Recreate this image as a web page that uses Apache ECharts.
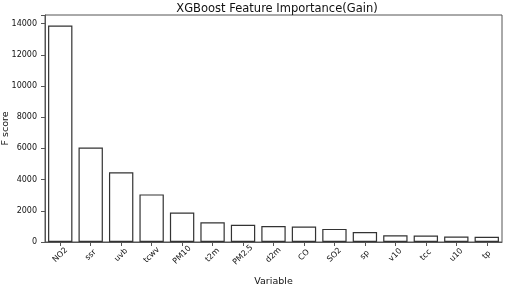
<!DOCTYPE html>
<html><head><meta charset="utf-8">
<script src="https://cdn.jsdelivr.net/npm/echarts@6/dist/echarts.min.js"></script>
<style>html,body{margin:0;padding:0;background:#fff}#c{width:505px;height:284px}</style>
</head><body><div id="c"></div>
<script>
const categories = ['NO2','ssr','uvb','tcwv','PM10','t2m','PM2.5','d2m','CO','SO2','sp','v10','tcc','u10','tp'];
const fscore = [13880, 6060, 4470, 3050, 1890, 1270, 1100, 1030, 990, 840, 645, 430, 410, 345, 340];
const yTicks = [0, 2000, 4000, 6000, 8000, 10000, 12000, 14000];

const font = 'DejaVu Sans';
const chart = echarts.init(document.getElementById('c'), null, {renderer: 'canvas'});
chart.setOption({
  animation: false,
  backgroundColor: '#fff',
  title: {
    text: 'XGBoost Feature Importance(Gain)',
    left: 272, top: -2, textAlign: 'center',
    textStyle: {fontFamily: font, fontSize: 11.5, fontWeight: 'normal', color: '#111'}
  },
  grid: {left: 45, right: 3, top: 15, bottom: 42, containLabel: false, outerBoundsMode: 'none',
    show: true, borderColor: '#555', borderWidth: 1, backgroundColor: 'transparent'},
  xAxis: {
    type: 'category', data: categories, boundaryGap: true,
    name: 'Variable', nameLocation: 'middle', nameGap: 35, nameMoveOverlap: false,
    nameTextStyle: {fontFamily: font, fontSize: 9.5, color: '#111'},
    axisLine: {show: true, lineStyle: {color: '#555', width: 1}},
    axisTick: {show: true, alignWithLabel: true, length: 4, lineStyle: {color: '#555'}},
    axisLabel: {rotate: 45, align: 'center', verticalAlign: 'middle', margin: 13, fontFamily: font, fontSize: 8, color: '#111'}
  },
  yAxis: {
    type: 'value', min: 0, max: 14550, interval: 2000,
    name: 'F score', nameLocation: 'middle', nameGap: 34, nameMoveOverlap: false,
    nameTextStyle: {fontFamily: font, fontSize: 9.5, color: '#111'},
    axisLine: {show: true, lineStyle: {color: '#555', width: 1}},
    axisTick: {show: true, length: 4, lineStyle: {color: '#555'}},
    splitLine: {show: false},
    axisLabel: {margin: 8, fontFamily: font, fontSize: 8, color: '#111',
      formatter: v => yTicks.includes(v) ? String(v) : ''}
  },
  series: [{
    type: 'bar', data: fscore, barWidth: '80%',
    itemStyle: {color: '#fff', borderColor: '#333', borderWidth: 1.2}
  }]
});
</script></body></html>
